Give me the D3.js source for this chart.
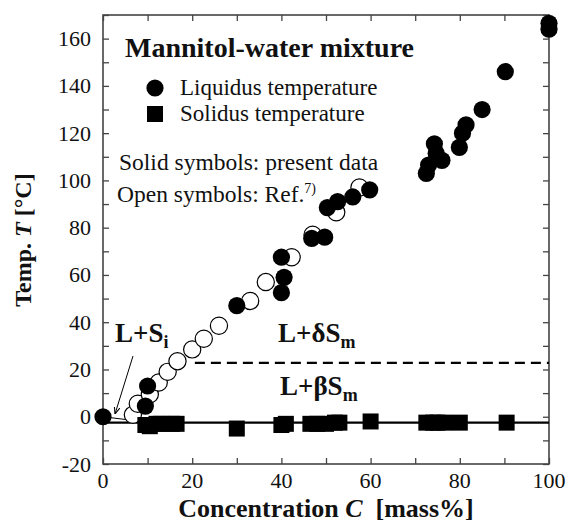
<!DOCTYPE html>
<html><head><meta charset="utf-8">
<script src="https://cdn.jsdelivr.net/npm/d3@7"></script>
<style>body{margin:0;background:#fff}svg{display:block}</style>
</head><body><svg id="c" width="569" height="523" font-family="'Liberation Serif', 'DejaVu Serif', 'Times New Roman', serif" fill="#111"></svg>
<script>
// Liquidus, present data (filled circles)
const liqC = [0, 9.5, 10, 30, 40, 40.6, 40, 46.8, 49.7, 50.3, 52.6, 56, 59.8, 72.5, 73, 74.3, 74.7, 76, 79.9, 80.6, 81.4, 85, 90.2, 100, 100];
const liqT = [0, 4.5, 13, 47, 52.5, 59, 67.5, 75.5, 76, 88.5, 91, 93, 96, 103, 106.5, 115.5, 111.5, 108.5, 114, 120, 123.5, 130, 146, 164, 166.5];
// Liquidus, Ref. 7 (open circles)
const refC = [6.7, 7.8, 10.5, 12.5, 14.5, 16.7, 20, 22.6, 26, 33, 36.5, 42.3, 47, 52.3, 57.5];
const refT = [0.8, 5.5, 9.5, 14.5, 19, 23.5, 28.5, 33, 38.5, 49, 57, 67.5, 77, 86.5, 97];
// Solidus, present data (filled squares)
const solC = [9.5, 10.5, 12, 13, 15.5, 16.5, 30, 40, 41, 46.5, 48, 50, 52, 53, 60, 72.5, 74, 75, 76.5, 80, 90.5];
const solT = [-3.5, -4, -3, -3, -3, -3, -5, -3.5, -3, -3, -3, -3, -2.5, -2.5, -2, -2.5, -2.5, -2.5, -2.5, -2.5, -2.5];
const xTicks = [0, 20, 40, 60, 80, 100];
const yTicks = [-20, 0, 20, 40, 60, 80, 100, 120, 140, 160];
const solidusT = -2.5, deltaBetaT = 22.8, deltaBetaStartC = 20.6;

const svg = d3.select("#c");
const x = d3.scaleLinear().domain([0, 100]).range([103, 549]);
const y = d3.scaleLinear().domain([-20, 170]).range([464, 15]);
const W = 549 - 103, H = 464 - 15;
const minorX = d3.range(0, 101, 10), minorY = d3.range(-20, 171, 10);
const fc = "#444";
const FF = "'Liberation Serif', 'DejaVu Serif', 'Times New Roman', serif";

function styleAxis(g){ g.attr("font-family", null).select(".domain").remove(); g.selectAll(".tick line").attr("stroke", fc).attr("stroke-width", 1.3); g.selectAll(".tick text").remove(); }
svg.append("g").attr("transform", "translate(0,464)").call(d3.axisBottom(x).tickValues(minorX).tickSize(-6)).call(styleAxis);
svg.append("g").attr("transform", "translate(0,15)").call(d3.axisTop(x).tickValues(minorX).tickSize(-6)).call(styleAxis);
svg.append("g").attr("transform", "translate(103,0)").call(d3.axisLeft(y).tickValues(minorY).tickSize(-6)).call(styleAxis);
svg.append("g").attr("transform", "translate(549,0)").call(d3.axisRight(y).tickValues(minorY).tickSize(-6)).call(styleAxis);
svg.append("rect").attr("x", 103).attr("y", 15).attr("width", W).attr("height", H).attr("fill", "none").attr("stroke", fc).attr("stroke-width", 1.6);

function T(sel){ return sel.append("text").attr("font-family", FF).attr("fill", "#111"); }
// tick labels
xTicks.forEach(d => T(svg).attr("x", x(d)).attr("y", 488).attr("text-anchor", "middle").attr("font-size", 22).text(d));
yTicks.forEach(d => T(svg).attr("x", 91).attr("y", y(d) + 7.5).attr("text-anchor", "end").attr("font-size", 22).text(d));

// axis titles
const xt = T(svg).attr("x", 326).attr("y", 517).attr("text-anchor", "middle").attr("font-size", 26).attr("font-weight", "bold");
xt.append("tspan").text("Concentration ");
xt.append("tspan").attr("font-style", "italic").text("C");
xt.append("tspan").attr("xml:space", "preserve").text("  [mass%]");
const yt = T(svg).attr("transform", "translate(31,240) rotate(-90)").attr("text-anchor", "middle").attr("font-size", 24).attr("font-weight", "bold");
yt.append("tspan").text("Temp. ");
yt.append("tspan").attr("font-style", "italic").text("T");
yt.append("tspan").attr("xml:space", "preserve").text(" [°C]");

// lines
svg.append("line").attr("x1", x(0)).attr("x2", x(100)).attr("y1", y(solidusT)).attr("y2", y(solidusT)).attr("stroke", "#000").attr("stroke-width", 2.2);
svg.append("line").attr("x1", x(deltaBetaStartC)).attr("x2", x(100)).attr("y1", y(deltaBetaT)).attr("y2", y(deltaBetaT)).attr("stroke", "#000").attr("stroke-width", 2.2).attr("stroke-dasharray", "10,6");
svg.append("line").attr("x1", x(0)).attr("x2", x(6.5)).attr("y1", y(0)).attr("y2", y(-1.5)).attr("stroke", "#000").attr("stroke-width", 1);

// symbols
const r = 8.6;
svg.selectAll(".ref").data(refC).enter().append("circle").attr("cx", d => x(d)).attr("cy", (d, i) => y(refT[i])).attr("r", r).attr("fill", "#fff").attr("stroke", "#000").attr("stroke-width", 1.2);
svg.selectAll(".liq").data(liqC).enter().append("circle").attr("cx", d => x(d)).attr("cy", (d, i) => y(liqT[i])).attr("r", r).attr("fill", "#000");
const s = 16;
svg.selectAll(".sol").data(solC).enter().append("rect").attr("x", d => x(d) - s / 2).attr("y", (d, i) => y(solT[i]) - s / 2).attr("width", s).attr("height", s).attr("fill", "#000");

// arrow
svg.append("defs").append("marker").attr("id", "ah").attr("viewBox", "0 0 10 10").attr("refX", 10).attr("refY", 5).attr("markerWidth", 7).attr("markerHeight", 7).attr("orient", "auto").append("path").attr("d", "M0,1 L10,5 L0,9").attr("fill", "none").attr("stroke", "#000").attr("stroke-width", 1.5);
svg.append("line").attr("x1", 133).attr("y1", 356).attr("x2", 115).attr("y2", 414).attr("stroke", "#000").attr("stroke-width", 1).attr("marker-end", "url(#ah)");

// annotations
T(svg).attr("x", 125).attr("y", 57).attr("font-size", 28).attr("font-weight", "bold").text("Mannitol-water mixture");
svg.append("circle").attr("cx", 155).attr("cy", 88).attr("r", r).attr("fill", "#000");
svg.append("rect").attr("x", 155 - s / 2).attr("y", 114 - s / 2).attr("width", s).attr("height", s).attr("fill", "#000");
T(svg).attr("x", 180).attr("y", 95).attr("font-size", 23).text("Liquidus temperature");
T(svg).attr("x", 180).attr("y", 121).attr("font-size", 23).text("Solidus temperature");
T(svg).attr("x", 119).attr("y", 170).attr("font-size", 23.5).text("Solid symbols: present data");
const os = T(svg).attr("x", 117).attr("y", 202).attr("font-size", 23.5);
os.append("tspan").text("Open symbols: Ref.");
os.append("tspan").attr("font-size", 14).attr("dy", -9).text("7)");

function phase(xp, yp, pre, sub){
  const t = T(svg).attr("x", xp).attr("y", yp).attr("font-size", 27).attr("font-weight", "bold");
  t.append("tspan").text(pre);
  t.append("tspan").attr("font-size", 18).attr("dy", 6).text(sub);
}
phase(115, 342, "L+S", "i");
phase(278, 342, "L+δS", "m");
phase(280, 395, "L+βS", "m");
</script></body></html>
